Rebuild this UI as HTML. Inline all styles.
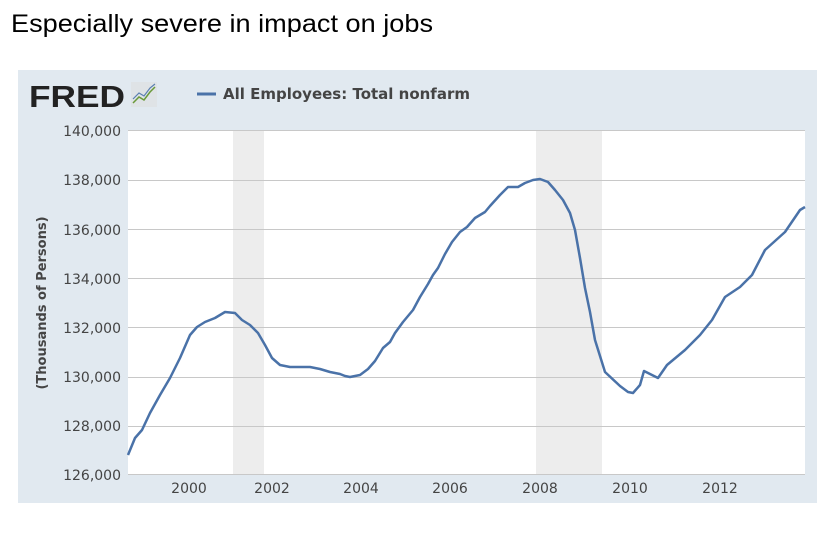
<!DOCTYPE html>
<html><head><meta charset="utf-8"><style>
body{margin:0;width:837px;height:536px;background:#fff;overflow:hidden;font-family:"Liberation Sans",sans-serif}
</style></head><body>
<svg width="837" height="536" xmlns="http://www.w3.org/2000/svg">
<text x="11" y="32" font-family="Liberation Sans, sans-serif" font-size="25" fill="#000" textLength="422" lengthAdjust="spacingAndGlyphs">Especially severe in impact on jobs</text>
<rect x="18" y="70" width="799" height="433" fill="#e1e9f0"/>
<rect x="128" y="130" width="677" height="345" fill="#fff"/>
<rect x="233" y="130" width="31" height="345" fill="#ededed"/>
<rect x="536" y="130" width="66" height="345" fill="#ededed"/>
<g stroke="#c8c8c8" stroke-width="1">
<line x1="128" y1="130.5" x2="805" y2="130.5"/>
<line x1="128" y1="180.5" x2="805" y2="180.5"/>
<line x1="128" y1="229.5" x2="805" y2="229.5"/>
<line x1="128" y1="278.5" x2="805" y2="278.5"/>
<line x1="128" y1="327.5" x2="805" y2="327.5"/>
<line x1="128" y1="377.5" x2="805" y2="377.5"/>
<line x1="128" y1="426.5" x2="805" y2="426.5"/>
<line x1="128" y1="474.5" x2="805" y2="474.5"/>
</g>
<g font-size="14" fill="#444" text-anchor="end" font-family="DejaVu Sans, sans-serif">
<text x="121" y="136">140,000</text><text x="121" y="185">138,000</text>
<text x="121" y="235">136,000</text><text x="121" y="284">134,000</text>
<text x="121" y="333">132,000</text><text x="121" y="382">130,000</text>
<text x="121" y="431">128,000</text><text x="121" y="480">126,000</text>
</g>
<g font-size="14" fill="#444" text-anchor="middle" font-family="DejaVu Sans, sans-serif">
<text x="189" y="493">2000</text><text x="272" y="493">2002</text><text x="361" y="493">2004</text>
<text x="450" y="493">2006</text><text x="540" y="493">2008</text><text x="630" y="493">2010</text><text x="720" y="493">2012</text>
</g>
<text transform="translate(46,303) rotate(-90)" text-anchor="middle" font-size="13" font-weight="bold" fill="#444" font-family="DejaVu Sans, sans-serif">(Thousands of Persons)</text>
<text x="29" y="107" font-size="31" font-weight="bold" fill="#222" font-family="Liberation Sans, sans-serif" textLength="96" lengthAdjust="spacingAndGlyphs">FRED</text>
<rect x="131" y="82" width="26" height="25" fill="#dfe3e6"/>
<polyline points="133,103 139,97 144,100 150,92 155,87" fill="none" stroke="#6a9a3a" stroke-width="1.5"/>
<polyline points="133,99 139,93 144,96 150,88 155,84" fill="none" stroke="#5a7fb0" stroke-width="1.2"/>
<line x1="197" y1="94" x2="216" y2="94" stroke="#4a72a8" stroke-width="3"/>
<text x="223" y="99" font-size="15" font-weight="bold" fill="#444" font-family="DejaVu Sans, sans-serif">All Employees: Total nonfarm</text>
<polyline fill="none" stroke="#4a72a8" stroke-width="2.5" stroke-linejoin="round" points="128,455 135,438 142,430 150,413 160,395 170,378 180,358 190,335 197,327 205,322 215,318 225,312 235,313 242,320 250,325 258,333 265,345 272,358 280,365 290,367 300,367 310,367 320,369 330,372 340,374 345,376 350,377 360,375 368,369 375,361 383,348 390,342 395,333 403,322 413,310 420,297 428,284 433,275 438,268 445,254 452,242 460,232 467,227 475,218 485,212 490,206 500,195 508,187 518,187 525,183 533,180 540,179 548,182 555,190 563,200 570,213 575,230 580,258 585,288 590,312 595,340 605,372 620,386 628,392 633,393 640,385 644,371 658,378 667,365 685,350 700,335 712,320 725,297 740,287 752,275 765,250 785,232 800,210 805,207"/>
</svg>
</body></html>
